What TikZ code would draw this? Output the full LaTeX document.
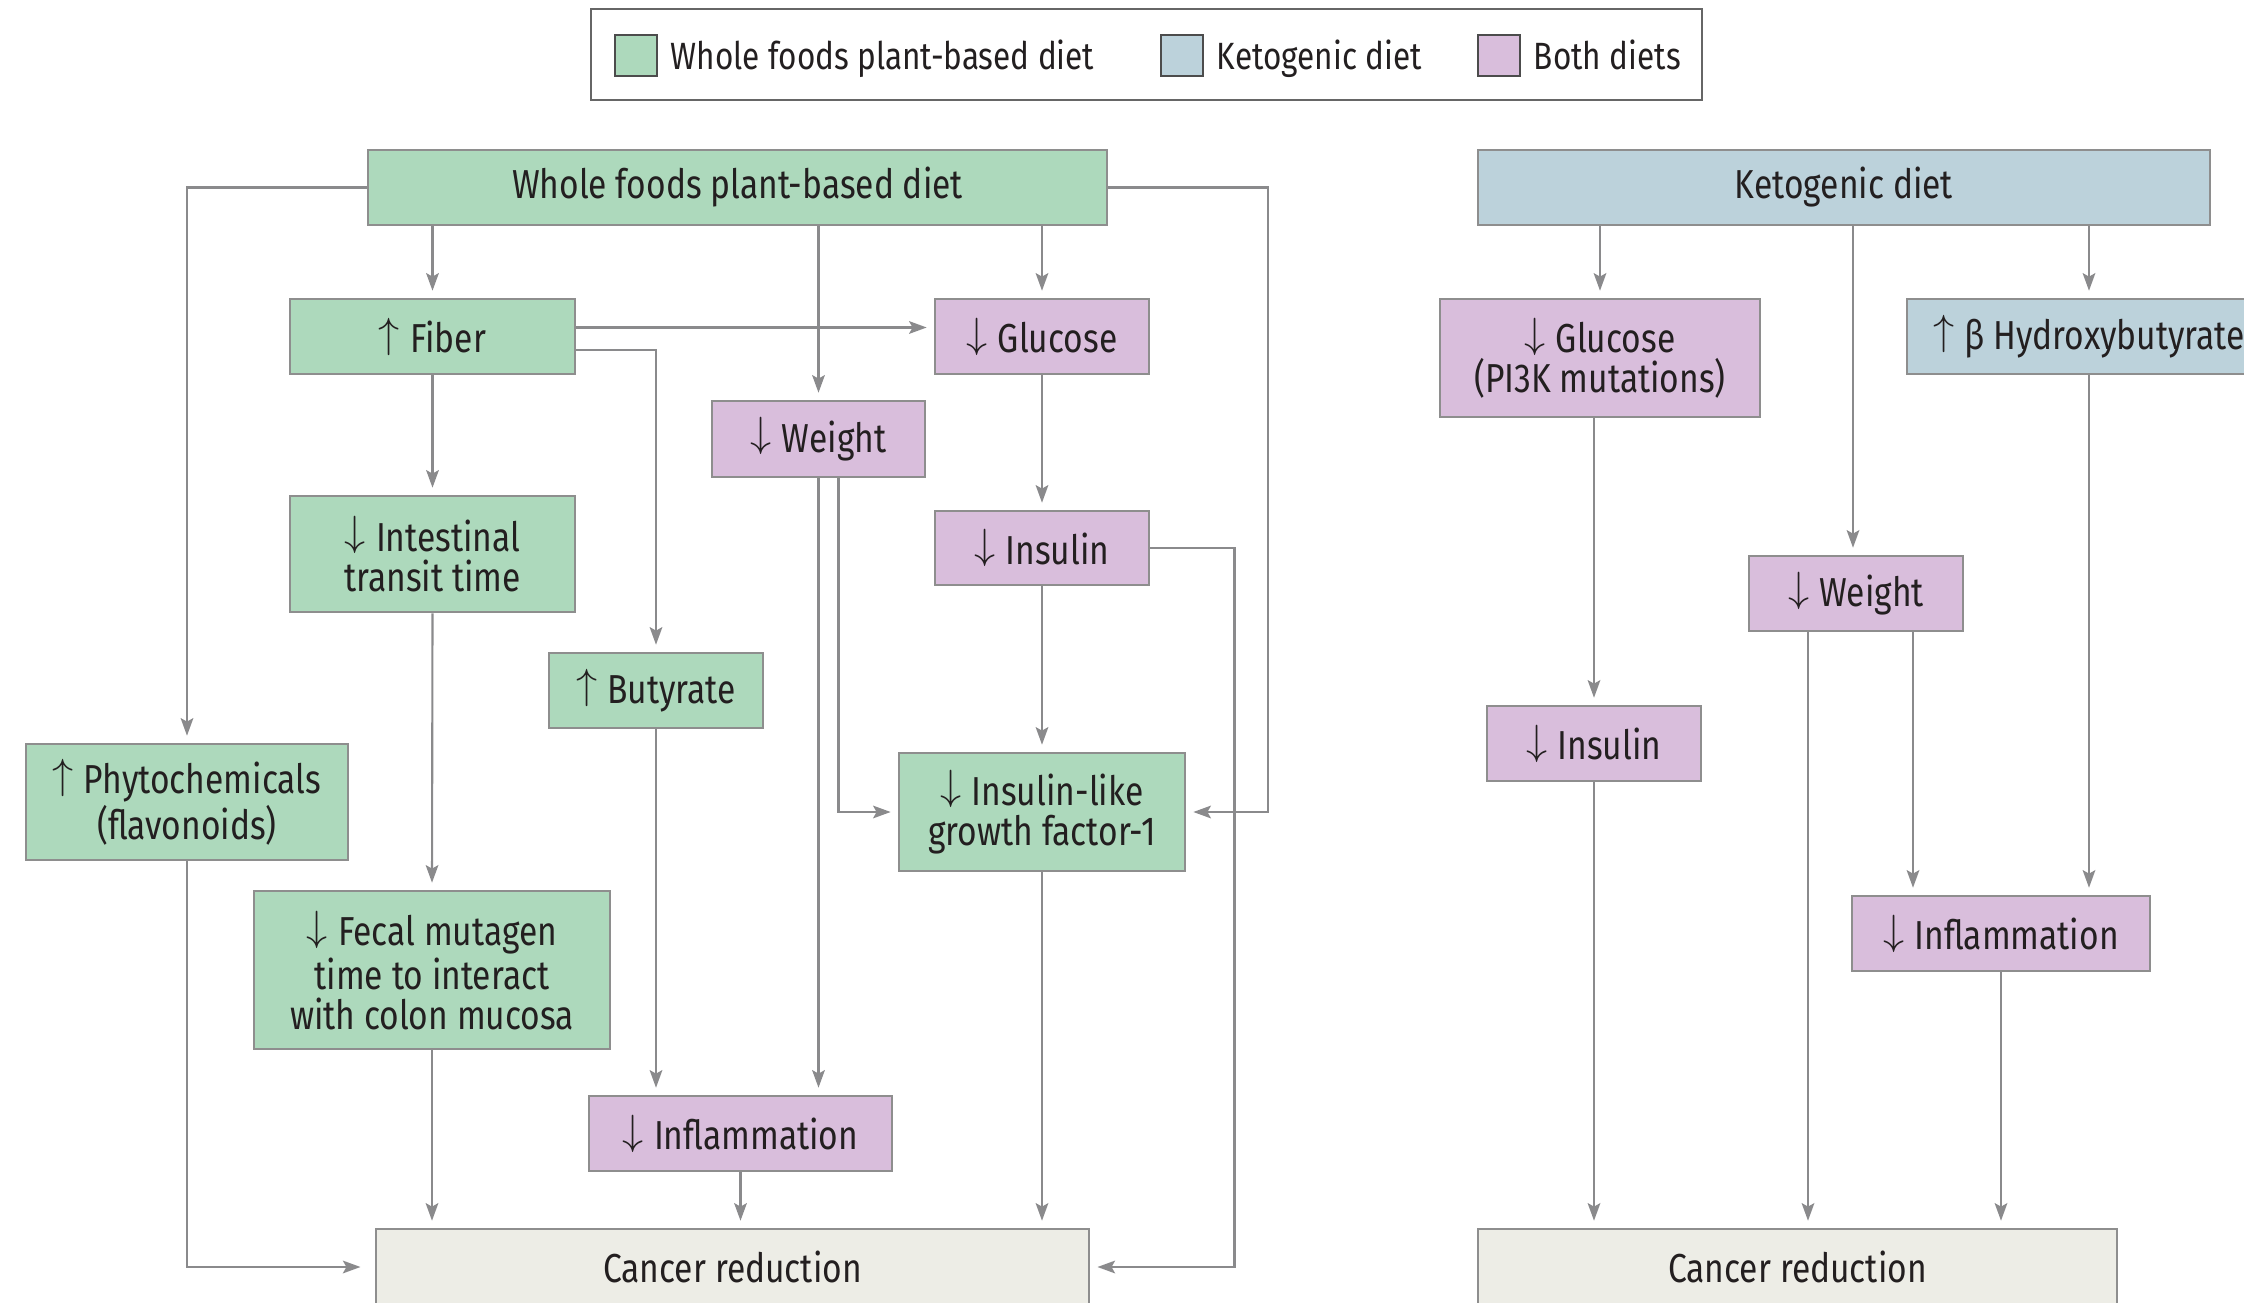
\documentclass[tikz,border=0pt]{standalone}
\usepackage{fontspec}
\setmainfont[FakeStretch=0.83]{Fira Sans}
\usetikzlibrary{arrows.meta}
\usetikzlibrary{calc}

\definecolor{wfpbgreen}{HTML}{ADD9BC}
\definecolor{ketoblue}{HTML}{BCD2DB}
\definecolor{bothpink}{HTML}{D9BEDC}
\definecolor{outbeige}{HTML}{EDEDE6}
\definecolor{boxgray}{HTML}{8E8E8E}
\definecolor{linegray}{HTML}{8A8A8C}
\definecolor{ink}{HTML}{231F20}

\tikzset{
 box/.style={draw=boxgray, line width=0.7pt, text=ink, align=center, inner sep=0pt,
   font=\fontsize{11.5}{11.4}\selectfont},
 wfpb/.style={box, fill=wfpbgreen},
 keto/.style={box, fill=ketoblue},
 both/.style={box, fill=bothpink},
 outcome/.style={box, fill=outbeige},
 link/.style={draw=linegray, line width=0.6pt, shorten >=2pt,
   -{Stealth[length=5pt,width=3.6pt,inset=1pt]}},
}
\newcommand\arrdn{\raisebox{0.25ex}{$\big\downarrow$}\hspace{0.25em}}
\newcommand\arrup{\raisebox{0.25ex}{$\big\uparrow$}\hspace{0.25em}}

\begin{document}
\begin{tikzpicture}[x=0.01cm, y=-0.01cm]
\useasboundingbox (0,0) rectangle (2244,1303);

% legend
\draw[draw=black!60, line width=0.8pt] (591,9) rectangle (1702,100);
\foreach \sx/\col/\txt in {636/wfpbgreen/Whole foods plant-based diet, 1182/ketoblue/Ketogenic diet, 1499/bothpink/Both diets} {
 \node[box, fill=\col, draw=black!70, minimum width=0.42cm, minimum height=0.41cm] (sw\col) at (\sx,55.5) {};
 \node[anchor=base west, text=ink, font=\fontsize{10.8}{11}\selectfont, inner sep=0pt] at ($(sw\col.east)+(12,14)$) {\txt};
}

% whole foods plant-based diet
\node[wfpb, minimum width=7.39cm, minimum height=0.75cm] (wfpb) at (737.5,187.5) {Whole foods plant-based diet};
\node[wfpb, minimum width=2.85cm, minimum height=0.75cm] (fiber) at (432.5,336.5) {\arrup Fiber};
\node[both, minimum width=2.14cm, minimum height=0.75cm] (glucose) at (1042,336.5) {\arrdn Glucose};
\node[both, minimum width=2.13cm, minimum height=0.76cm] (weight) at (818.5,439) {\arrdn Weight};
\node[wfpb, minimum width=2.85cm, minimum height=1.16cm] (transit) at (432.5,554) {\arrdn Intestinal\\transit time};
\node[both, minimum width=2.14cm, minimum height=0.74cm] (insulin) at (1042,548) {\arrdn Insulin};
\node[wfpb, minimum width=2.14cm, minimum height=0.75cm] (butyrate) at (656,690.5) {\arrup Butyrate};
\node[wfpb, minimum width=3.22cm, minimum height=1.16cm] (phyto) at (187,802) {\arrup Phytochemicals\\(flavonoids)};
\node[wfpb, minimum width=2.86cm, minimum height=1.18cm] (igf) at (1042,812) {\arrdn Insulin-like\\growth factor-1};
\node[wfpb, minimum width=3.56cm, minimum height=1.58cm] (fecal) at (432,970) {\arrdn Fecal mutagen\\time to interact\\with colon mucosa};
\node[both, minimum width=3.03cm, minimum height=0.75cm] (inflam) at (740.5,1133.5) {\arrdn Inflammation};
\node[outcome, minimum width=7.13cm, minimum height=0.76cm] (cancerL) at (732.5,1267) {Cancer reduction};

\draw[link] (fiber.north |- wfpb.south) -- (fiber.north);
\draw[link] (weight.north |- wfpb.south) -- (weight.north);
\draw[link] (glucose.north |- wfpb.south) -- (glucose.north);
\draw[link] (wfpb.west) -| (phyto.north);
\draw[link] (wfpb.east) -| ($(igf.east)+(82,0)$) -- (igf.east);
\draw[link] ($(fiber.east)+(0,-9)$) -- ($(glucose.west)+(0,-9)$);
\draw[link] ($(fiber.east)+(0,13.5)$) -| (butyrate.north);
\draw[link] (fiber.south) -- (transit.north);
\draw[link] (transit.south) -- (fecal.north);
\draw[link] (glucose.south) -- (insulin.north);
\draw[link] (insulin.south) -- (igf.north);
\draw[link] (weight.south) -- (weight.south |- inflam.north);
\draw[link] ($(weight.south)+(20,0)$) |- (igf.west);
\draw[link] (butyrate.south) -- (butyrate.south |- inflam.north);
\draw[link] (insulin.east) -| ($(cancerL.east)+(144,0)$) -- (cancerL.east);
\draw[link, shorten >=4pt] (phyto.south) |- (cancerL.west);
\draw[link] (fecal.south) -- (fecal.south |- cancerL.north);
\draw[link] (inflam.south) -- (inflam.south |- cancerL.north);
\draw[link] (igf.south) -- (igf.south |- cancerL.north);

% ketogenic diet
\node[keto, minimum width=7.32cm, minimum height=0.75cm] (keto) at (1844,187.5) {Ketogenic diet};
\node[both, minimum width=3.20cm, minimum height=1.18cm] (kglucose) at (1600,358) {\arrdn Glucose\\(PI3K mutations)};
\node[keto, minimum width=3.64cm, minimum height=0.75cm] (hydroxy) at (2089,336.5) {\arrup β Hydroxybutyrate};
\node[both, minimum width=2.14cm, minimum height=0.75cm] (kweight) at (1856,593.5) {\arrdn Weight};
\node[both, minimum width=2.14cm, minimum height=0.75cm] (kinsulin) at (1594,743.5) {\arrdn Insulin};
\node[both, minimum width=2.98cm, minimum height=0.75cm] (kinflam) at (2001,933.5) {\arrdn Inflammation};
\node[outcome, minimum width=6.39cm, minimum height=0.76cm] (cancerR) at (1797.5,1267) {Cancer reduction};

\coordinate (kwL) at ($(kweight.south)+(-48,0)$);
\coordinate (kwR) at ($(kweight.south)+(57,0)$);
\draw[link] (kglucose.north |- keto.south) -- (kglucose.north);
\draw[link] ($(kweight.north |- keto.south)+(-3,0)$) -- ($(kweight.north)+(-3,0)$);
\draw[link] (hydroxy.north |- keto.south) -- (hydroxy.north);
\draw[link] (kinsulin.north |- kglucose.south) -- (kinsulin.north);
\draw[link] (kinsulin.south) -- (kinsulin.south |- cancerR.north);
\draw[link] (kwL) -- (kwL |- cancerR.north);
\draw[link] (kwR) -- (kwR |- kinflam.north);
\draw[link] (hydroxy.south) -- (hydroxy.south |- kinflam.north);
\draw[link] (kinflam.south) -- (kinflam.south |- cancerR.north);
\end{tikzpicture}
\end{document}
